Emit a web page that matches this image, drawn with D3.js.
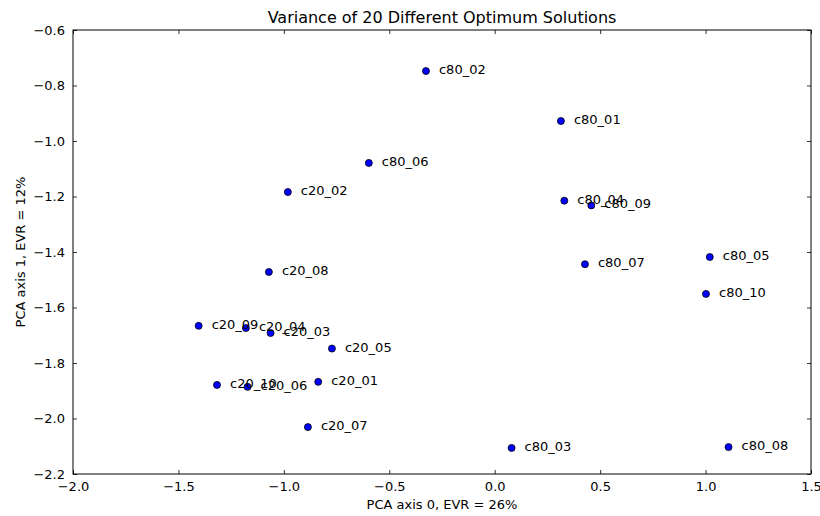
<!DOCTYPE html>
<html>
<head>
<meta charset="utf-8">
<script src="https://cdn.jsdelivr.net/npm/d3@7"></script>
<style>
  body { margin: 0; background: #fff; }
  text { font-family: "DejaVu Sans", sans-serif; fill: #000; }
</style>
</head>
<body>
<div id="chart"></div>
<script>
// point names and PCA coordinates
const names = ['c80_02', 'c80_01', 'c80_06', 'c20_02', 'c80_04', 'c80_09', 'c80_07', 'c80_05', 'c80_10', 'c20_08',
               'c20_09', 'c20_04', 'c20_03', 'c20_05', 'c20_10', 'c20_06', 'c20_01', 'c20_07', 'c80_03', 'c80_08'];
const pcaX = [-0.326, 0.314, -0.597, -0.981, 0.330, 0.458, 0.428, 1.020, 1.002, -1.071,
              -1.404, -1.180, -1.063, -0.772, -1.317, -1.172, -0.837, -0.886, 0.080, 1.109];
const pcaY = [-0.748, -0.928, -1.079, -1.184, -1.215, -1.232, -1.444, -1.418, -1.551, -1.472,
              -1.666, -1.674, -1.692, -1.748, -1.879, -1.886, -1.868, -2.031, -2.106, -2.103];
const xTicks = [-2.0, -1.5, -1.0, -0.5, 0.0, 0.5, 1.0, 1.5];
const yTicks = [-0.6, -0.8, -1.0, -1.2, -1.4, -1.6, -1.8, -2.0, -2.2];

const width = 820, height = 516;
const margin = {top: 30, right: 9, bottom: 42, left: 73};
const plotW = width - margin.left - margin.right;
const plotH = height - margin.top - margin.bottom;

const scaleX = d3.scaleLinear().domain([-2.0, 1.5]).range([0, plotW]);
const scaleY = d3.scaleLinear().domain([-2.2, -0.6]).range([plotH, 0]);
const fmt = d3.format('.1f');

const svg = d3.select('#chart').append('svg')
    .attr('width', width)
    .attr('height', height);
const chrt = svg.append('g')
    .attr('transform', 'translate(' + margin.left + ',' + margin.top + ')');

// axes: ticks inward, mirrored on top and right
const tickLen = 4;
chrt.append('g')
    .attr('transform', 'translate(0,' + plotH + ')')
    .call(d3.axisBottom(scaleX).tickValues(xTicks).tickFormat(fmt).tickSizeInner(-tickLen).tickSizeOuter(0).tickPadding(8));
chrt.append('g')
    .call(d3.axisTop(scaleX).tickValues(xTicks).tickFormat('').tickSizeInner(-tickLen).tickSizeOuter(0));
chrt.append('g')
    .call(d3.axisLeft(scaleY).tickValues(yTicks).tickFormat(fmt).tickSizeInner(-tickLen).tickSizeOuter(0).tickPadding(8));
chrt.append('g')
    .attr('transform', 'translate(' + plotW + ',0)')
    .call(d3.axisRight(scaleY).tickValues(yTicks).tickFormat('').tickSizeInner(-tickLen).tickSizeOuter(0));
chrt.selectAll('.domain').remove();
chrt.selectAll('.tick line').attr('stroke', '#000').attr('stroke-width', 0.8);
chrt.selectAll('.tick text').style('font-size', '13px').style('font-family', '"DejaVu Sans", sans-serif');

chrt.append('rect')
    .attr('width', plotW)
    .attr('height', plotH)
    .attr('fill', 'none')
    .attr('stroke', '#000')
    .attr('stroke-width', 1);

// points + labels
const pts = names.map((n, i) => ({name: n, x: pcaX[i], y: pcaY[i]}));
chrt.selectAll('circle.pt')
    .data(pts)
    .enter().append('circle')
    .attr('class', 'pt')
    .attr('cx', d => scaleX(d.x))
    .attr('cy', d => scaleY(d.y))
    .attr('r', 3.5)
    .attr('fill', '#0000ff')
    .attr('stroke', '#000')
    .attr('stroke-width', 0.8);
chrt.selectAll('text.lbl')
    .data(pts)
    .enter().append('text')
    .attr('class', 'lbl')
    .attr('x', d => scaleX(d.x) + 13)
    .attr('y', d => scaleY(d.y) + 3)
    .style('font-size', '13px')
    .text(d => d.name);

// title and axis labels
svg.append('text')
    .attr('x', margin.left + plotW / 2)
    .attr('y', 23)
    .attr('text-anchor', 'middle')
    .style('font-size', '16px')
    .text('Variance of 20 Different Optimum Solutions');
svg.append('text')
    .attr('x', margin.left + plotW / 2)
    .attr('y', 509)
    .attr('text-anchor', 'middle')
    .style('font-size', '13px')
    .text('PCA axis 0, EVR = 26%');
svg.append('text')
    .attr('transform', 'translate(25,' + (margin.top + plotH / 2) + ') rotate(-90)')
    .attr('text-anchor', 'middle')
    .style('font-size', '13px')
    .text('PCA axis 1, EVR = 12%');
</script>
</body>
</html>
